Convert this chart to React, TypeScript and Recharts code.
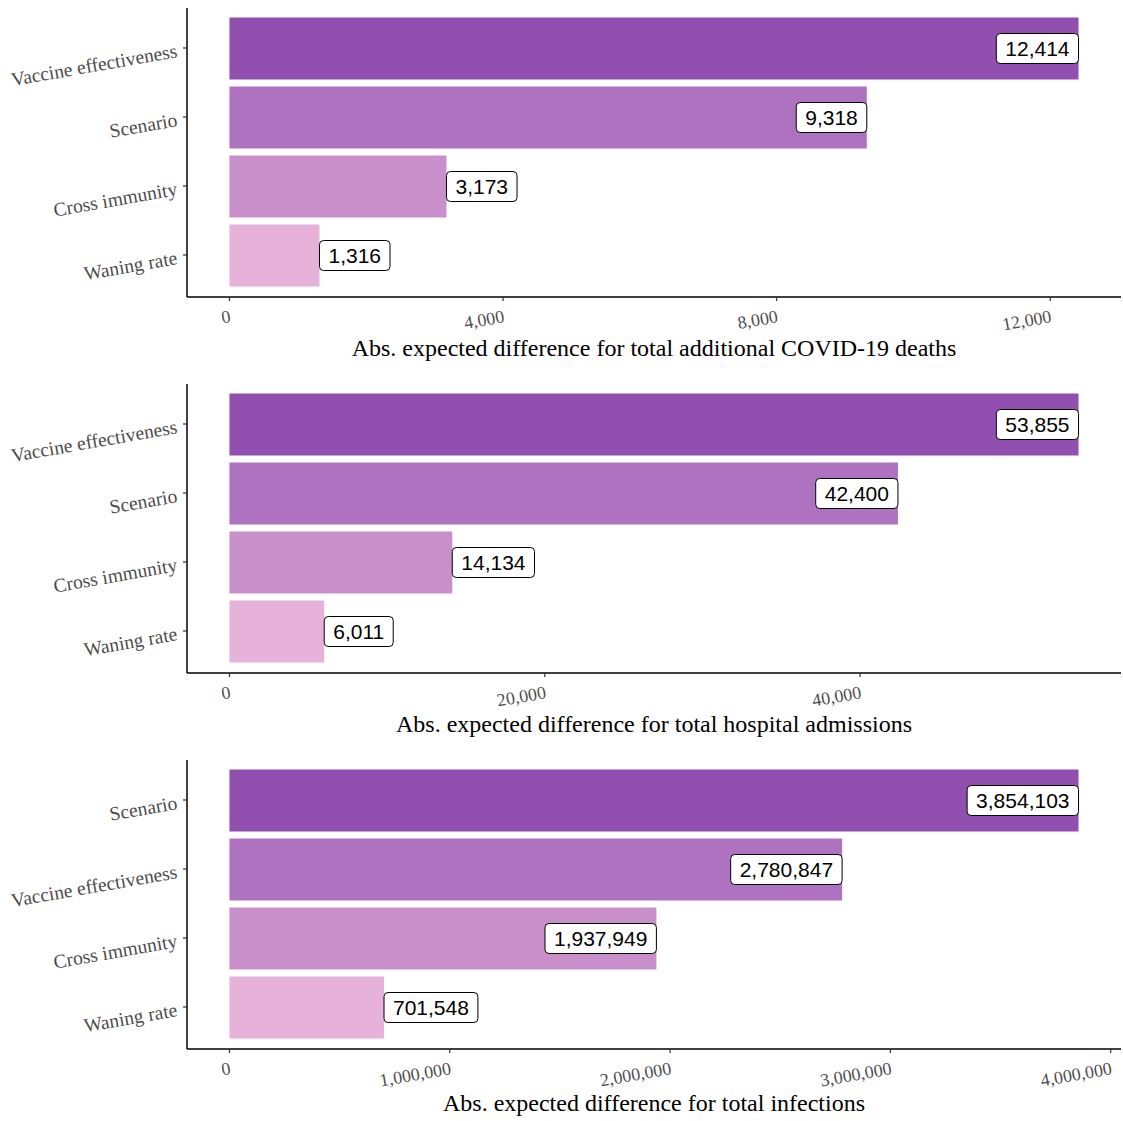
import React from "react";
import { BarChart, Bar, XAxis, YAxis, Cell, LabelList } from "recharts";

const deathCategories = ["Vaccine effectiveness", "Scenario", "Cross immunity", "Waning rate"];
const deathValues = [12414, 9318, 3173, 1316];
const deathTicks = [0, 4000, 8000, 12000];
const deathTitle = "Abs. expected difference for total additional COVID-19 deaths";

const hospCategories = ["Vaccine effectiveness", "Scenario", "Cross immunity", "Waning rate"];
const hospValues = [53855, 42400, 14134, 6011];
const hospTicks = [0, 20000, 40000];
const hospTitle = "Abs. expected difference for total hospital admissions";

const infCategories = ["Scenario", "Vaccine effectiveness", "Cross immunity", "Waning rate"];
const infValues = [3854103, 2780847, 1937949, 701548];
const infTicks = [0, 1000000, 2000000, 3000000, 4000000];
const infTitle = "Abs. expected difference for total infections";

const barColors = ["#9150B0", "#AE72C0", "#C98FCB", "#E6B2D9"];

const SERIF = "'Liberation Serif', 'Times New Roman', serif";
const SANS = "'Liberation Sans', Arial, sans-serif";
const ANGLE = -10;

const fmt = (v: number) => v.toLocaleString("en-US");

let ctx: CanvasRenderingContext2D | null = null;
function measure(text: string, font: string): number {
  try {
    if (!ctx) ctx = document.createElement("canvas").getContext("2d");
    if (ctx) {
      ctx.font = font;
      return ctx.measureText(text).width;
    }
  } catch (e) {}
  return text.length * 11;
}

const XTick = (props: any) => {
  const { x, y, payload } = props;
  const ax = x + 2;
  const ay = y + 21;
  return (
    <text
      x={ax}
      y={ay}
      textAnchor="end"
      fill="#4D4D4D"
      fontFamily={SERIF}
      fontSize={18}
      transform={`rotate(${ANGLE}, ${ax}, ${ay})`}
    >
      {fmt(payload.value)}
    </text>
  );
};

const YTick = (props: any) => {
  const { x, y, payload } = props;
  const ax = x - 5;
  const ay = y + 9;
  return (
    <text
      x={ax}
      y={ay}
      textAnchor="end"
      fill="#4D4D4D"
      fontFamily={SERIF}
      fontSize={19.5}
      transform={`rotate(${ANGLE}, ${ax}, ${ay})`}
    >
      {payload.value}
    </text>
  );
};

function makeLabel(maxVal: number) {
  return (props: any) => {
    const { x, y, width, height, value } = props;
    const text = fmt(value);
    const fs = 21;
    const tw = measure(text, `${fs}px 'Liberation Sans'`);
    const padX = 9;
    const boxW = tw + padX * 2;
    const boxH = 30;
    const end = x + width;
    const inside = value >= 0.4 * maxVal;
    const bx = inside ? end - boxW : end;
    const cy = y + height / 2;
    return (
      <g>
        <rect
          x={bx}
          y={cy - boxH / 2}
          width={boxW}
          height={boxH}
          rx={4}
          ry={4}
          fill="#FFFFFF"
          stroke="#000000"
          strokeWidth={1}
        />
        <text
          x={bx + boxW / 2}
          y={cy + 7.5}
          textAnchor="middle"
          fontFamily={SANS}
          fontSize={fs}
          fill="#000000"
        >
          {text}
        </text>
      </g>
    );
  };
}

type PanelProps = {
  categories: string[];
  values: number[];
  ticks: number[];
  title: string;
  titleOffset: number;
  height: number;
};

const Panel = ({ categories, values, ticks, title, titleOffset, height }: PanelProps) => {
  const data = categories.map((name, i) => ({ name, value: values[i] }));
  const maxVal = Math.max(...values);
  const pad = maxVal * 0.05;
  return (
    <BarChart
      width={1115}
      height={height}
      data={data}
      layout="vertical"
      margin={{ top: 0, right: 2, bottom: 0, left: 0 }}
      barSize={62}
    >
      <XAxis
        type="number"
        domain={[-pad, maxVal + pad]}
        ticks={ticks}
        interval={0}
        height={height - 289}
        tickSize={4}
        tickMargin={0}
        tickLine={{ stroke: "#333333", strokeWidth: 1.2 }}
        axisLine={{ stroke: "#000000", strokeWidth: 1.5 }}
        tick={<XTick />}
        allowDataOverflow
        label={{
          value: title,
          position: "insideBottom",
          offset: titleOffset,
          fill: "#000000",
          fontSize: 24,
          fontFamily: SERIF,
        }}
      />
      <YAxis
        type="category"
        dataKey="name"
        width={179}
        tickSize={4}
        tickMargin={0}
        padding={{ top: 5.5, bottom: 7.5 }}
        tickLine={{ stroke: "#333333", strokeWidth: 1.2 }}
        axisLine={{ stroke: "#000000", strokeWidth: 1.5 }}
        tick={<YTick />}
        interval={0}
      />
      <Bar dataKey="value" isAnimationActive={false}>
        {data.map((d, i) => (
          <Cell key={d.name} fill={barColors[i]} />
        ))}
        <LabelList dataKey="value" content={makeLabel(maxVal)} />
      </Bar>
    </BarChart>
  );
};

export default function App() {
  return (
    <div
      style={{
        width: 1123,
        height: 1121,
        paddingLeft: 8,
        paddingTop: 8,
        boxSizing: "border-box",
        overflow: "hidden",
        background: "#FFFFFF",
      }}
    >
      <style>{"html,body{margin:0;padding:0;overflow:hidden;}"}</style>
      <Panel categories={deathCategories} values={deathValues} ticks={deathTicks} title={deathTitle} titleOffset={28} height={376} />
      <Panel categories={hospCategories} values={hospValues} ticks={hospTicks} title={hospTitle} titleOffset={28} height={376} />
      <Panel categories={infCategories} values={infValues} ticks={infTicks} title={infTitle} titleOffset={10} height={361} />
    </div>
  );
}
